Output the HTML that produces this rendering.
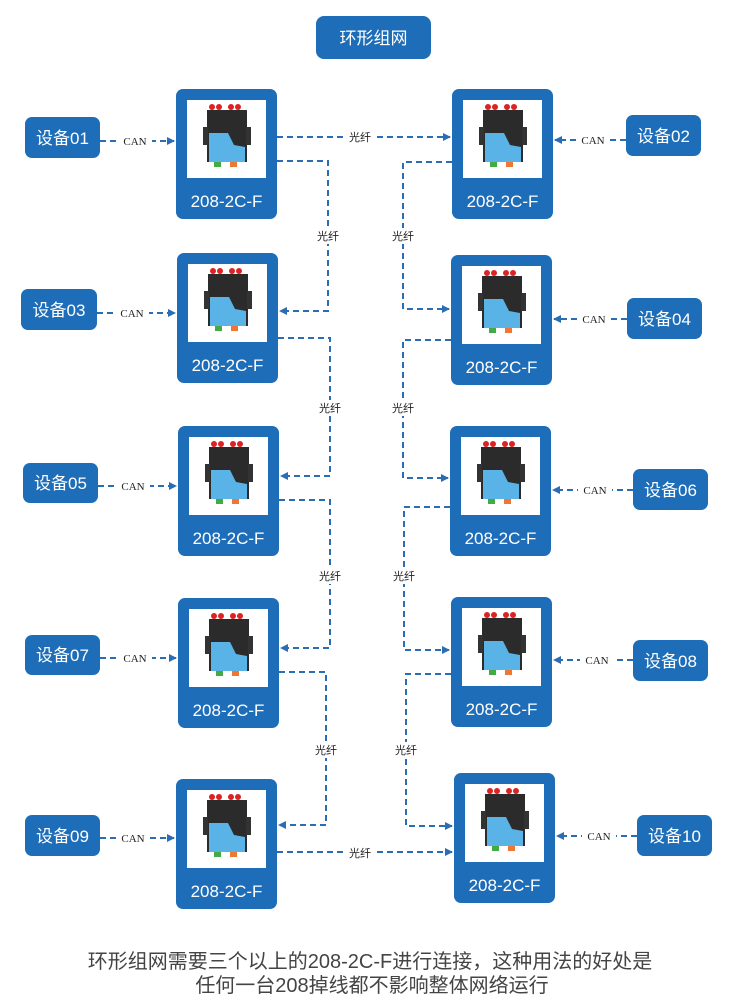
<!DOCTYPE html>
<html><head><meta charset="utf-8"><style>
body{margin:0;background:#fff;}
svg{display:block;font-family:"Liberation Sans","Noto Sans CJK SC",sans-serif;}
.lbl{fill:#fff;font-size:17px;}
.small{font-family:"Liberation Serif","Noto Sans CJK SC",serif;font-size:11px;fill:#222;}
.fib{font-size:11px;fill:#222;}
.ln{stroke:#2a6db5;stroke-width:2;stroke-dasharray:6,4;fill:none;}
</style></head><body>
<svg width="750" height="1000" viewBox="0 0 750 1000">
<defs>
<marker id="ar" markerWidth="8" markerHeight="8" refX="7" refY="4" orient="auto" markerUnits="userSpaceOnUse"><path d="M0,0 L8,4 L0,8 z" fill="#2a6db5"/></marker>
<g id="dev">
<rect x="0" y="0" width="101" height="130" rx="7" fill="#1e6db8"/>
<rect x="11" y="11" width="79" height="78" fill="#fff"/>
<circle cx="36" cy="18" r="3" fill="#d22"/><circle cx="43" cy="18" r="3" fill="#d22"/>
<circle cx="55" cy="18" r="3" fill="#d22"/><circle cx="62" cy="18" r="3" fill="#d22"/>
<rect x="31" y="21" width="40" height="52" fill="#2b2b2b"/>
<rect x="27" y="38" width="5" height="18" fill="#333"/><rect x="70" y="38" width="5" height="18" fill="#333"/>
<path d="M33,44 L52,44 L58,56 L69,58 L69,73 L33,73 z" fill="#5ab3e6"/>
<rect x="38" y="73" width="7" height="5" fill="#4a4"/><rect x="54" y="73" width="7" height="5" fill="#e73"/>
</g>
</defs>
<rect x="316" y="16" width="115" height="43" rx="8" fill="#1e6db8"/>
<text x="373.5" y="44" text-anchor="middle" class="lbl" font-size="18">环形组网</text>

<g>
<use href="#dev" x="176" y="89"/><text x="226.5" y="207" text-anchor="middle" class="lbl">208-2C-F</text>
<use href="#dev" x="177" y="253"/><text x="227.5" y="371" text-anchor="middle" class="lbl">208-2C-F</text>
<use href="#dev" x="178" y="426"/><text x="228.5" y="544" text-anchor="middle" class="lbl">208-2C-F</text>
<use href="#dev" x="178" y="598"/><text x="228.5" y="716" text-anchor="middle" class="lbl">208-2C-F</text>
<use href="#dev" x="176" y="779"/><text x="226.5" y="897" text-anchor="middle" class="lbl">208-2C-F</text>
<use href="#dev" x="452" y="89"/><text x="502.5" y="207" text-anchor="middle" class="lbl">208-2C-F</text>
<use href="#dev" x="451" y="255"/><text x="501.5" y="373" text-anchor="middle" class="lbl">208-2C-F</text>
<use href="#dev" x="450" y="426"/><text x="500.5" y="544" text-anchor="middle" class="lbl">208-2C-F</text>
<use href="#dev" x="451" y="597"/><text x="501.5" y="715" text-anchor="middle" class="lbl">208-2C-F</text>
<use href="#dev" x="454" y="773"/><text x="504.5" y="891" text-anchor="middle" class="lbl">208-2C-F</text>
</g>

<g>
<rect x="25" y="117" width="75" height="41" rx="7" fill="#1e6db8"/><text x="62.5" y="144" text-anchor="middle" class="lbl">设备01</text>
<rect x="21" y="289" width="76" height="41" rx="7" fill="#1e6db8"/><text x="59" y="316" text-anchor="middle" class="lbl">设备03</text>
<rect x="23" y="463" width="75" height="40" rx="7" fill="#1e6db8"/><text x="60.5" y="489" text-anchor="middle" class="lbl">设备05</text>
<rect x="25" y="635" width="75" height="40" rx="7" fill="#1e6db8"/><text x="62.5" y="661" text-anchor="middle" class="lbl">设备07</text>
<rect x="25" y="815" width="75" height="41" rx="7" fill="#1e6db8"/><text x="62.5" y="842" text-anchor="middle" class="lbl">设备09</text>
<rect x="626" y="115" width="75" height="41" rx="7" fill="#1e6db8"/><text x="663.5" y="142" text-anchor="middle" class="lbl">设备02</text>
<rect x="627" y="298" width="75" height="41" rx="7" fill="#1e6db8"/><text x="664.5" y="325" text-anchor="middle" class="lbl">设备04</text>
<rect x="633" y="469" width="75" height="41" rx="7" fill="#1e6db8"/><text x="670.5" y="496" text-anchor="middle" class="lbl">设备06</text>
<rect x="633" y="640" width="75" height="41" rx="7" fill="#1e6db8"/><text x="670.5" y="667" text-anchor="middle" class="lbl">设备08</text>
<rect x="637" y="815" width="75" height="41" rx="7" fill="#1e6db8"/><text x="674.5" y="842" text-anchor="middle" class="lbl">设备10</text>
</g>

<g>
<path class="ln" d="M100,141 H174" marker-end="url(#ar)"/><rect x="118" y="134" width="34" height="14" fill="#fff"/><text x="135" y="145" text-anchor="middle" class="small">CAN</text>
<path class="ln" d="M97,313 H175" marker-end="url(#ar)"/><rect x="115" y="306" width="34" height="14" fill="#fff"/><text x="132" y="317" text-anchor="middle" class="small">CAN</text>
<path class="ln" d="M98,486 H176" marker-end="url(#ar)"/><rect x="116" y="479" width="34" height="14" fill="#fff"/><text x="133" y="490" text-anchor="middle" class="small">CAN</text>
<path class="ln" d="M100,658 H176" marker-end="url(#ar)"/><rect x="118" y="651" width="34" height="14" fill="#fff"/><text x="135" y="662" text-anchor="middle" class="small">CAN</text>
<path class="ln" d="M100,838 H174" marker-end="url(#ar)"/><rect x="116" y="831" width="34" height="14" fill="#fff"/><text x="133" y="842" text-anchor="middle" class="small">CAN</text>
<path class="ln" d="M626,140 H555" marker-end="url(#ar)"/><rect x="576" y="133" width="34" height="14" fill="#fff"/><text x="593" y="144" text-anchor="middle" class="small">CAN</text>
<path class="ln" d="M627,319 H554" marker-end="url(#ar)"/><rect x="577" y="312" width="34" height="14" fill="#fff"/><text x="594" y="323" text-anchor="middle" class="small">CAN</text>
<path class="ln" d="M633,490 H553" marker-end="url(#ar)"/><rect x="578" y="483" width="34" height="14" fill="#fff"/><text x="595" y="494" text-anchor="middle" class="small">CAN</text>
<path class="ln" d="M633,660 H554" marker-end="url(#ar)"/><rect x="580" y="653" width="34" height="14" fill="#fff"/><text x="597" y="664" text-anchor="middle" class="small">CAN</text>
<path class="ln" d="M637,836 H557" marker-end="url(#ar)"/><rect x="582" y="829" width="34" height="14" fill="#fff"/><text x="599" y="840" text-anchor="middle" class="small">CAN</text>
</g>

<g>
<path class="ln" d="M277,137 H450" marker-end="url(#ar)"/><rect x="345" y="129" width="30" height="15" fill="#fff"/><text x="360" y="141" text-anchor="middle" class="fib">光纤</text>
<path class="ln" d="M277,161 H328 V311 H280" marker-end="url(#ar)"/><rect x="313" y="228" width="30" height="16" fill="#fff"/><text x="328" y="240" text-anchor="middle" class="fib">光纤</text>
<path class="ln" d="M452,162 H403 V309 H449" marker-end="url(#ar)"/><rect x="388" y="228" width="30" height="16" fill="#fff"/><text x="403" y="240" text-anchor="middle" class="fib">光纤</text>
<path class="ln" d="M278,338 H330 V476 H281" marker-end="url(#ar)"/><rect x="315" y="400" width="30" height="16" fill="#fff"/><text x="330" y="412" text-anchor="middle" class="fib">光纤</text>
<path class="ln" d="M451,340 H403 V478 H448" marker-end="url(#ar)"/><rect x="388" y="400" width="30" height="16" fill="#fff"/><text x="403" y="412" text-anchor="middle" class="fib">光纤</text>
<path class="ln" d="M279,500 H330 V648 H281" marker-end="url(#ar)"/><rect x="315" y="568" width="30" height="16" fill="#fff"/><text x="330" y="580" text-anchor="middle" class="fib">光纤</text>
<path class="ln" d="M450,507 H404 V650 H449" marker-end="url(#ar)"/><rect x="389" y="568" width="30" height="16" fill="#fff"/><text x="404" y="580" text-anchor="middle" class="fib">光纤</text>
<path class="ln" d="M279,672 H326 V825 H279" marker-end="url(#ar)"/><rect x="311" y="742" width="30" height="16" fill="#fff"/><text x="326" y="754" text-anchor="middle" class="fib">光纤</text>
<path class="ln" d="M451,674 H406 V826 H452" marker-end="url(#ar)"/><rect x="391" y="742" width="30" height="16" fill="#fff"/><text x="406" y="754" text-anchor="middle" class="fib">光纤</text>
<path class="ln" d="M277,852 H452" marker-end="url(#ar)"/><rect x="345" y="845" width="30" height="15" fill="#fff"/><text x="360" y="857" text-anchor="middle" class="fib">光纤</text>
</g>

<text x="370" y="968" text-anchor="middle" font-size="20" fill="#444">环形组网需要三个以上的208-2C-F进行连接，这种用法的好处是</text>
<text x="372" y="992" text-anchor="middle" font-size="20" fill="#444">任何一台208掉线都不影响整体网络运行</text>
</svg>
</body></html>
